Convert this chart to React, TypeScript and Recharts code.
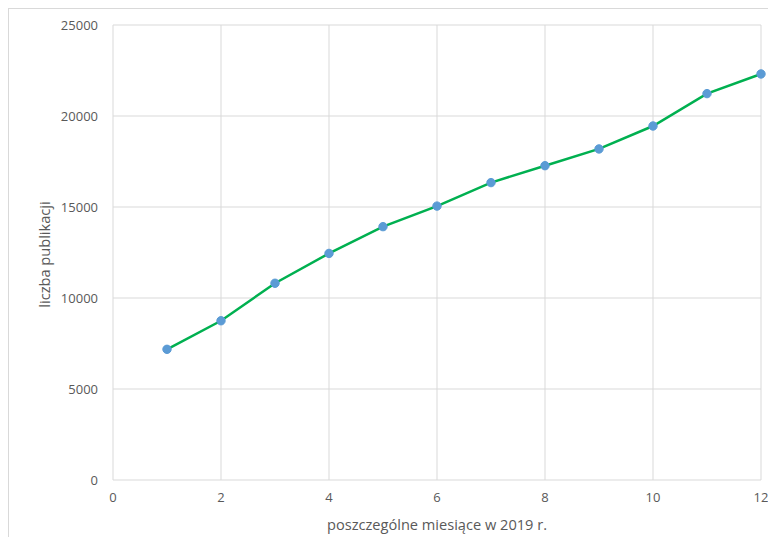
import { LineChart, Line, XAxis, YAxis, CartesianGrid, Label } from 'recharts';

const months = [1, 2, 3, 4, 5, 6, 7, 8, 9, 10, 11, 12];
const publications = [7180, 8750, 10810, 12450, 13920, 15050, 16340, 17270, 18190, 19450, 21230, 22310];
const xTicks = [0, 2, 4, 6, 8, 10, 12];
const yTicks = [0, 5000, 10000, 15000, 20000, 25000];

const chartData = months.map((m, i) => ({ month: m, count: publications[i] }));

const font = '"Open Sans", Lato, sans-serif';
const textColor = '#595959';

export default function App() {
    return (
        <div style={{ border: '1px solid #d9d9d9', width: 776, height: 540, boxSizing: 'border-box', fontFamily: font }}>
            <LineChart
                width={767}
                height={528}
                data={chartData}
                margin={{ top: 16, right: 15, left: 30, bottom: 17 }}
            >
                <CartesianGrid stroke="#d9d9d9" strokeWidth={1} />
                <XAxis
                    type="number"
                    dataKey="month"
                    domain={[0, 12]}
                    ticks={xTicks}
                    axisLine={false}
                    tickLine={false}
                    tickSize={0}
                    tickMargin={13}
                    height={40}
                    tick={{ fill: textColor, fontSize: 13, fontFamily: font }}
                >
                    <Label
                        content={({ viewBox }: any) => (
                            <text
                                x={viewBox.x + viewBox.width / 2}
                                y={viewBox.y + 50}
                                textAnchor="middle"
                                fill={textColor}
                                fontSize={14.6}
                                fontFamily={font}
                            >
                                poszczególne miesiące w 2019 r.
                            </text>
                        )}
                    />
                </XAxis>
                <YAxis
                    type="number"
                    domain={[0, 25000]}
                    ticks={yTicks}
                    axisLine={false}
                    tickLine={false}
                    tickSize={0}
                    tickMargin={15}
                    width={74}
                    tick={{ fill: textColor, fontSize: 13, fontFamily: font }}
                >
                    <Label
                        content={({ viewBox }: any) => {
                            const cx = 41;
                            const cy = viewBox.y + viewBox.height / 2 + 2;
                            return (
                                <text
                                    x={cx}
                                    y={cy}
                                    transform={`rotate(-90 ${cx} ${cy})`}
                                    textAnchor="middle"
                                    fill={textColor}
                                    fontSize={14.6}
                                    fontFamily={font}
                                >
                                    liczba publikacji
                                </text>
                            );
                        }}
                    />
                </YAxis>
                <Line
                    type="linear"
                    dataKey="count"
                    stroke="#00b050"
                    strokeWidth={2.5}
                    dot={{ r: 4.2, fill: '#5b9bd5', stroke: '#5b9bd5', strokeWidth: 1 }}
                    activeDot={false}
                    isAnimationActive={false}
                />
            </LineChart>
        </div>
    );
}
